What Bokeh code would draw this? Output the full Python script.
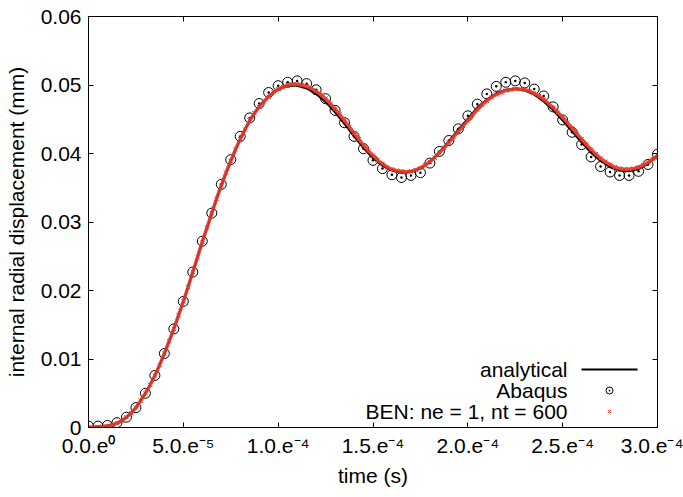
from bokeh.plotting import figure
from bokeh.models import Range1d, FixedTicker, LinearAxis, Label, CustomJSTickFormatter
from bokeh.embed import file_html
from bokeh.resources import INLINE

# ---------------- data ----------------
# time samples (s)
t_analytical = [i * 5e-6 for i in range(61)]
t_abaqus = [i * 5e-6 for i in range(61)]
t_ben = [i * 2.5e-6 for i in range(121)]

analytical = [
    0.0000, 0.0001, 0.0002, 0.0006, 0.0015, 0.0029, 0.0050, 0.0076, 0.0108, 0.0144,
    0.0184, 0.0227, 0.0271, 0.0313, 0.0353, 0.0389, 0.0421, 0.0448, 0.0469, 0.0484,
    0.0494, 0.0499, 0.0499, 0.0495, 0.0487, 0.0475, 0.0460, 0.0443, 0.0425, 0.0408,
    0.0393, 0.0382, 0.0375, 0.0372, 0.0373, 0.0378, 0.0388, 0.0402, 0.0418, 0.0435,
    0.0451, 0.0467, 0.0479, 0.0488, 0.0493, 0.0495, 0.0492, 0.0486, 0.0476, 0.0463,
    0.0448, 0.0432, 0.0416, 0.0401, 0.0389, 0.0380, 0.0375, 0.0374, 0.0377, 0.0385,
    0.0397,
]

abaqus = [
    0.0002, 0.0002, 0.0003, 0.0007, 0.0015, 0.0029, 0.0050, 0.0076, 0.0108, 0.0144,
    0.0184, 0.0227, 0.0272, 0.0313, 0.0355, 0.0391, 0.0425, 0.0452, 0.0473, 0.0489,
    0.0499, 0.0504, 0.0506, 0.0502, 0.0493, 0.0480, 0.0463, 0.0445, 0.0425, 0.0407,
    0.0390, 0.0378, 0.0369, 0.0365, 0.0368, 0.0372, 0.0386, 0.0403, 0.0419, 0.0436,
    0.0455, 0.0472, 0.0487, 0.0498, 0.0504, 0.0506, 0.0503, 0.0494, 0.0484, 0.0468,
    0.0449, 0.0431, 0.0413, 0.0395, 0.0381, 0.0373, 0.0368, 0.0368, 0.0374, 0.0384,
    0.0399,
]

ben = [
    0.0000, 0.0000, 0.0001, 0.0001, 0.0002, 0.0004, 0.0006, 0.0010, 0.0015, 0.0021,
    0.0029, 0.0039, 0.0050, 0.0062, 0.0076, 0.0091, 0.0108, 0.0126, 0.0144, 0.0164,
    0.0184, 0.0205, 0.0227, 0.0249, 0.0271, 0.0292, 0.0313, 0.0334, 0.0353, 0.0372,
    0.0389, 0.0406, 0.0421, 0.0435, 0.0448, 0.0459, 0.0468, 0.0476, 0.0483, 0.0489,
    0.0494, 0.0497, 0.0500, 0.0501, 0.0501, 0.0500, 0.0498, 0.0495, 0.0491, 0.0486,
    0.0480, 0.0473, 0.0465, 0.0457, 0.0448, 0.0439, 0.0430, 0.0421, 0.0412, 0.0404,
    0.0397, 0.0390, 0.0385, 0.0380, 0.0377, 0.0375, 0.0374, 0.0373, 0.0374, 0.0376,
    0.0379, 0.0383, 0.0388, 0.0394, 0.0401, 0.0408, 0.0416, 0.0424, 0.0432, 0.0440,
    0.0448, 0.0456, 0.0464, 0.0471, 0.0477, 0.0482, 0.0486, 0.0489, 0.0492, 0.0493,
    0.0494, 0.0494, 0.0493, 0.0491, 0.0488, 0.0484, 0.0479, 0.0473, 0.0467, 0.0460,
    0.0453, 0.0445, 0.0437, 0.0429, 0.0421, 0.0413, 0.0406, 0.0399, 0.0393, 0.0388,
    0.0384, 0.0380, 0.0378, 0.0377, 0.0377, 0.0378, 0.0380, 0.0383, 0.0387, 0.0392,
    0.0397,
]

x_ticks = [0.0, 5e-5, 1e-4, 1.5e-4, 2e-4, 2.5e-4, 3e-4]
x_tick_labels = ["0.0.e\u2070", "5.0.e\u207b\u2075", "1.0.e\u207b\u2074", "1.5.e\u207b\u2074",
                 "2.0.e\u207b\u2074", "2.5.e\u207b\u2074", "3.0.e\u207b\u2074"]
y_ticks = [0.0, 0.01, 0.02, 0.03, 0.04, 0.05, 0.06]
y_tick_labels = ["0", "0.01", "0.02", "0.03", "0.04", "0.05", "0.06"]

legend_labels = ["analytical", "Abaqus", "BEN: ne = 1, nt = 600"]

# ---------------- style ----------------
FONT = "Liberation Sans"
FS = "21px"
RED = "#e4382b"
W, H = 683, 497
FL, FR, FT, FB = 88, 657, 16, 427   # frame edges in pixels
X0, X1, Y0, Y1 = 0.0, 3e-4, 0.0, 0.06

p = figure(width=W, height=H, output_backend="svg", toolbar_location=None,
           x_range=Range1d(X0, X1), y_range=Range1d(Y0, Y1),
           min_border_left=FL, min_border_right=W - FR,
           min_border_top=FT, min_border_bottom=H - FB)
p.grid.visible = False
p.outline_line_color = "black"
p.outline_line_width = 1
p.background_fill_color = "white"
p.border_fill_color = "white"


def style_axis(ax, ticks, labels, show_labels=True):
    ax.ticker = FixedTicker(ticks=ticks)
    if show_labels:
        ax.formatter = CustomJSTickFormatter(args=dict(labels=labels), code="return labels[index];")
    else:
        ax.formatter = CustomJSTickFormatter(code="return '';")
        ax.major_label_standoff = 0
    ax.major_tick_in = 5
    ax.major_tick_out = 0
    ax.minor_tick_line_color = None
    ax.axis_line_color = "black"
    ax.major_tick_line_color = "black"
    ax.major_label_text_font = FONT
    ax.major_label_text_font_size = FS
    ax.major_label_text_color = "black"
    ax.axis_label_text_font = FONT
    ax.axis_label_text_font_size = FS
    ax.axis_label_text_font_style = "normal"
    ax.axis_label_text_color = "black"


xa = p.xaxis[0]
ya = p.yaxis[0]
style_axis(xa, x_ticks, x_tick_labels)
style_axis(ya, y_ticks, y_tick_labels)
xa.axis_label = "time (s)"
ya.axis_label = "internal radial displacement (mm)"
xa.major_label_standoff = 6
xa.axis_label_standoff = 4
ya.major_label_standoff = 7
ya.axis_label_standoff = 10

top = LinearAxis()
right = LinearAxis()
style_axis(top, x_ticks, None, show_labels=False)
style_axis(right, y_ticks, None, show_labels=False)
p.add_layout(top, "above")
p.add_layout(right, "right")

# ---------------- series ----------------
p.line(t_analytical, analytical, line_color="black", line_width=2)
p.scatter(t_abaqus, abaqus, marker="circle_dot", size=10, line_color="black",
          fill_color=None, line_width=1)
p.line(t_ben, ben, line_color=RED, line_width=3.5, line_alpha=0.9)
p.scatter(t_ben, ben, marker="x", size=6, line_color=RED, line_width=1)

# ---------------- legend (gnuplot-style: text right, sample left) ----------------
def dx(px):
    return X0 + (px - FL) / (FR - FL) * (X1 - X0)


def dy(py):
    return Y0 + (FB - py) / (FB - FT) * (Y1 - Y0)


rows_py = [369, 390, 411]
text_right_px = 567
for lab, py in zip(legend_labels, rows_py):
    p.add_layout(Label(x=dx(text_right_px), y=dy(py), text=lab, text_align="right",
                       text_baseline="middle", text_font=FONT, text_font_size=FS,
                       text_color="black"))

p.line([dx(581), dx(637)], [dy(rows_py[0])] * 2, line_color="black", line_width=2)
p.scatter([dx(609)], [dy(rows_py[1])], marker="circle_dot", size=7, line_color="black",
          fill_color=None, line_width=1)
p.scatter([dx(609)], [dy(rows_py[2])], marker="x", size=5, line_color=RED, line_width=1)

open("out.html", "w").write(file_html(p, INLINE))
